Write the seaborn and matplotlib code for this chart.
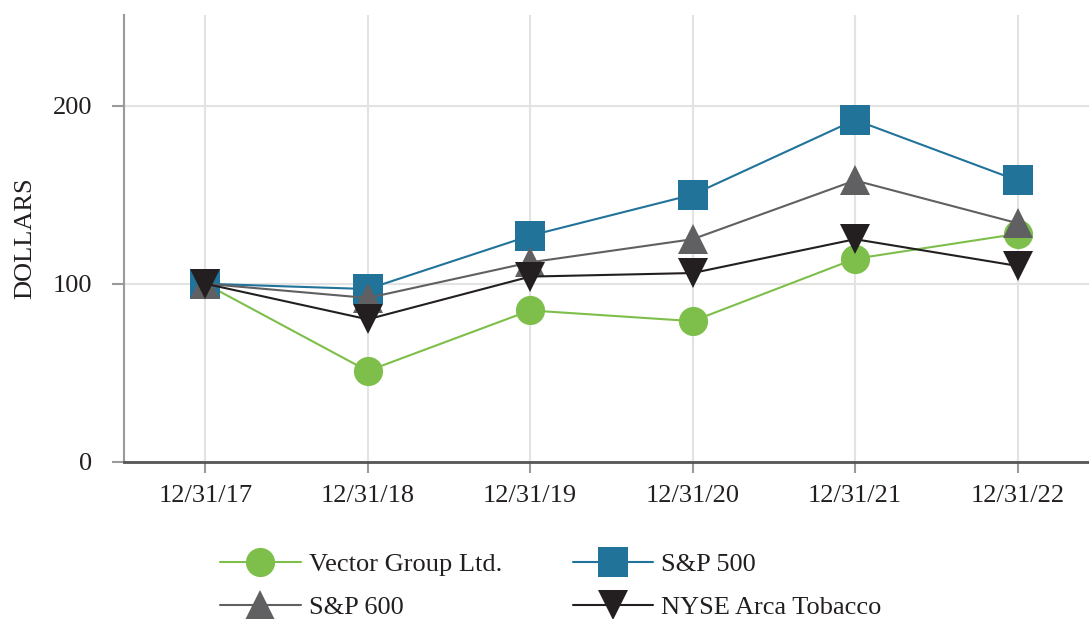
import matplotlib
matplotlib.use("Agg")
import matplotlib.pyplot as plt
import seaborn as sns
import pandas as pd

dates = ["12/31/17", "12/31/18", "12/31/19", "12/31/20", "12/31/21", "12/31/22"]
vector = [100, 51, 85, 79, 114, 128]
sp500 = [100, 97, 127, 150, 192, 158]
sp600 = [100, 92, 112, 125, 158, 134]
tobacco = [100, 80, 104, 106, 125, 110]

series = [
    ("Vector Group Ltd.", vector, "#7dbf4a", "o"),
    ("S&P 500", sp500, "#21739a", "s"),
    ("S&P 600", sp600, "#606062", "^"),
    ("NYSE Arca Tobacco", tobacco, "#231f20", "v"),
]

sns.set_theme(style="white")
plt.rcParams["font.family"] = ["Liberation Serif", "DejaVu Serif"]

fig = plt.figure(figsize=(10.89, 6.19), dpi=100)
ax = fig.add_axes([0.1139, 0.254, 0.8861, 0.722])

handles = {}
for i, (name, vals, color, marker) in enumerate(series):
    df = pd.DataFrame({"x": range(len(dates)), "y": vals})
    sns.lineplot(data=df, x="x", y="y", ax=ax, color=color, marker=marker,
                 markersize=21, markeredgewidth=0, linewidth=1.5, zorder=3 + i,
                 label=name, legend=False)
    handles[name] = ax.lines[-1]

ax.set_xlim(-0.5, 5.44)
ax.set_ylim(0, 251)
ax.set_xticks(range(len(dates)))
ax.set_xticklabels(dates)
ax.set_yticks([0, 100, 200])
ax.set_xlabel("")
ax.set_ylabel("DOLLARS", fontsize=19, labelpad=12)
ax.grid(True, color="#e3e3e3", linewidth=1.5, zorder=0)
ax.set_axisbelow(True)
for s in ["top", "right"]:
    ax.spines[s].set_visible(False)
ax.spines["left"].set_color("#9a9a9c")
ax.spines["left"].set_linewidth(1.5)
ax.spines["bottom"].set_color("#555555")
ax.spines["bottom"].set_linewidth(2)
ax.tick_params(axis="y", direction="out", length=9, width=1.5, color="#9a9a9c",
               labelsize=19, pad=14, left=True)
ax.tick_params(axis="x", direction="out", length=8, width=1.5, color="#9a9a9c",
               labelsize=19, pad=9, bottom=True)
for t in ax.get_xticklabels() + ax.get_yticklabels():
    t.set_color("#231f20")
ax.yaxis.label.set_color("#231f20")

order = ["Vector Group Ltd.", "S&P 600", "S&P 500", "NYSE Arca Tobacco"]
leg = fig.legend(handles=[handles[n] for n in order], labels=order, ncol=2,
                 loc="upper left", bbox_to_anchor=(0.19, 0.128), frameon=False,
                 fontsize=19, handlelength=3.05, handletextpad=0.3,
                 columnspacing=2.7, labelspacing=0.74, borderpad=0, markerscale=1.0)
for t in leg.get_texts():
    t.set_color("#231f20")

fig.savefig("out.png", dpi=100)
